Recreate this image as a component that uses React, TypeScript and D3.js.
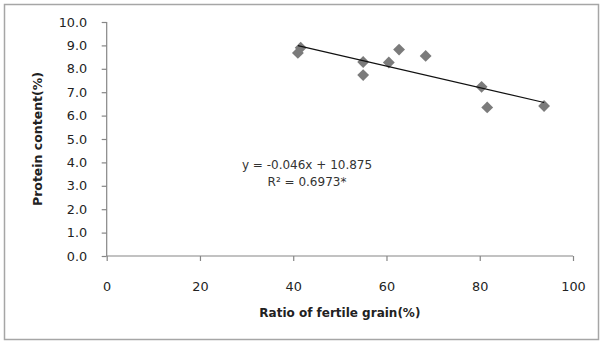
import React, { useEffect, useRef } from 'react';
import * as d3 from 'd3';

// ratio of fertile grain (%) and protein content (%) per sample
const fertileRatio = [41.0, 41.6, 55.0, 55.0, 60.5, 62.7, 68.4, 80.4, 81.6, 93.8];
const proteinContent = [8.68, 8.9, 8.29, 7.73, 8.27, 8.82, 8.55, 7.23, 6.35, 6.41];
const xTicks = [0, 20, 40, 60, 80, 100];
const yTicks = [0, 1, 2, 3, 4, 5, 6, 7, 8, 9, 10];
const slope = -0.046;
const intercept = 10.875;
const equationLines = ['y = -0.046x + 10.875', 'R\u00b2 = 0.6973*'];

function App() {
  const ref = useRef<SVGSVGElement>(null);

  useEffect(() => {
    const svg = d3.select(ref.current);
    svg.selectAll('*').remove();

    const W = 603, H = 341;
    const left = 106.7, right = 573, top = 22, bottom = 256;
    const font = '"DejaVu Sans", Verdana, sans-serif';

    // outer frame
    svg.append('rect')
      .attr('x', 4.5).attr('y', 4.5)
      .attr('width', W - 9).attr('height', H - 6)
      .attr('fill', 'white')
      .attr('stroke', '#a6a6a6')
      .attr('stroke-width', 1.5);

    const x = d3.scaleLinear().domain([0, 100]).range([left, right]);
    const y = d3.scaleLinear().domain([0, 10]).range([bottom, top]);

    const xAxis = svg.append('g')
      .attr('transform', `translate(0,${bottom})`)
      .call(d3.axisBottom(x).tickValues(xTicks).tickSize(5).tickPadding(20.5).tickFormat(d3.format('d')));
    const yAxis = svg.append('g')
      .attr('transform', `translate(${left},0)`)
      .call(d3.axisLeft(y).tickValues(yTicks).tickSize(5).tickPadding(14.5).tickFormat(d3.format('.1f')));

    [xAxis, yAxis].forEach(g => {
      g.select('.domain').attr('stroke', '#868686').attr('stroke-width', 1.2);
      g.selectAll('.tick line').attr('stroke', '#868686').attr('stroke-width', 1.2);
      g.selectAll('.tick text')
        .attr('fill', '#222')
        .style('font-family', font)
        .style('font-size', '12.8px');
    });
    // plain domain lines without outer end ticks
    xAxis.select('.domain').attr('d', `M${left},0H${right}`);
    yAxis.select('.domain').attr('d', `M0,${bottom}V${top}`);

    // points
    const pts = fertileRatio.map((v, i) => ({ x: v, y: proteinContent[i] }));
    const sym = d3.symbol().type(d3.symbolSquare).size(70);
    svg.append('g').selectAll('path')
      .data(pts)
      .enter().append('path')
      .attr('d', sym)
      .attr('transform', d => `translate(${x(d.x)},${y(d.y)}) rotate(45)`)
      .attr('fill', '#7b7b7b');

    // trend line over the data range
    const [x0, x1] = d3.extent(fertileRatio) as [number, number];
    svg.append('line')
      .attr('x1', x(x0)).attr('y1', y(slope * x0 + intercept))
      .attr('x2', x(x1)).attr('y2', y(slope * x1 + intercept))
      .attr('stroke', '#111')
      .attr('stroke-width', 1.2);

    // equation
    svg.append('g').selectAll('text')
      .data(equationLines)
      .enter().append('text')
      .attr('x', 307)
      .attr('y', (d, i) => 169 + i * 17)
      .attr('text-anchor', 'middle')
      .style('font-family', font)
      .style('font-size', '12px')
      .attr('fill', '#333')
      .text(d => d);

    // axis titles
    svg.append('text')
      .attr('x', (left + right) / 2)
      .attr('y', 317)
      .attr('text-anchor', 'middle')
      .style('font-family', font)
      .style('font-size', '12px')
      .style('font-weight', 'bold')
      .attr('fill', '#222')
      .text('Ratio of fertile grain(%)');

    svg.append('text')
      .attr('transform', `translate(42,${(top + bottom) / 2}) rotate(-90)`)
      .attr('text-anchor', 'middle')
      .style('font-family', font)
      .style('font-size', '12.5px')
      .style('font-weight', 'bold')
      .attr('fill', '#222')
      .text('Protein content(%)');
  }, []);

  return (
    <svg
      ref={ref}
      width={603}
      height={341}
      style={{ position: 'absolute', left: 0, top: 0, display: 'block', background: 'white' }}
    />
  );
}

export default App;
